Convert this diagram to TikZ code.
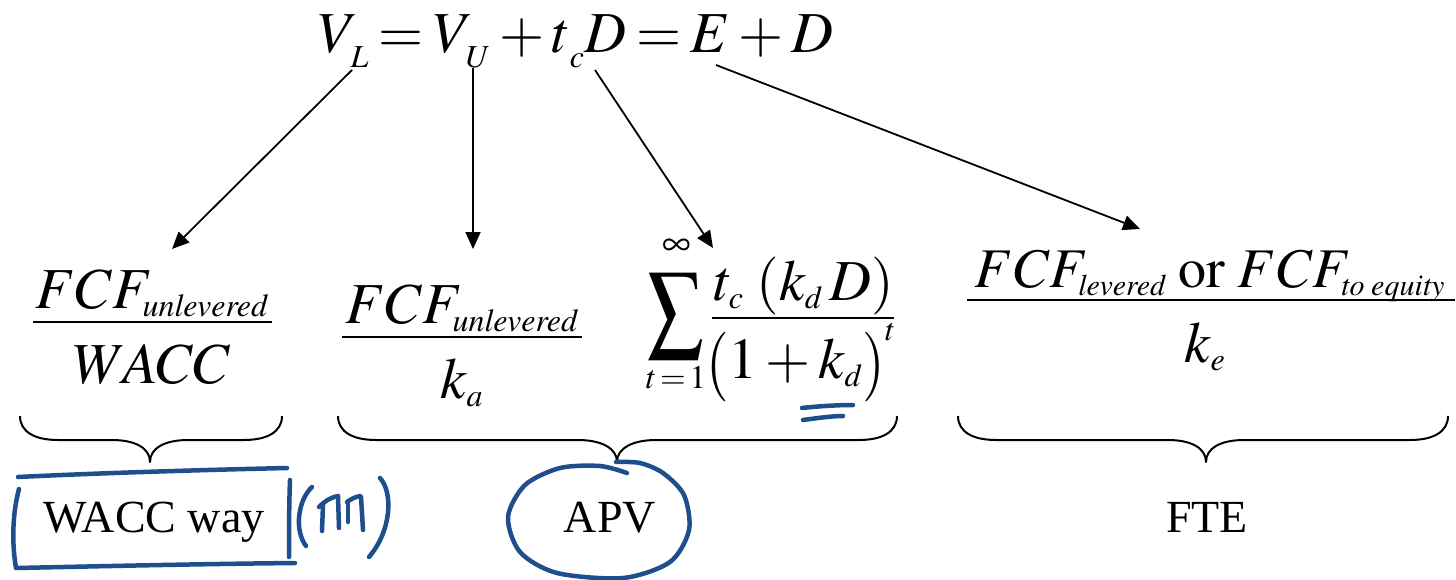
\documentclass[tikz,border=0pt]{standalone}
\usepackage{graphicx}
\usepackage{mathptmx}
\usepackage[no-math]{fontspec}
\setmainfont{Liberation Serif}
\usetikzlibrary{arrows.meta}
\DeclareMathSizes{58}{58}{32}{24}
\DeclareMathSizes{56}{56}{30}{22}
\DeclareMathSizes{46}{46}{28}{20}
\definecolor{inkblue}{HTML}{1F4E8C}
\newcommand\dn[1]{_{\kern3pt\lower6pt\hbox{$\scriptstyle #1$}}}
\newcommand\bigparen[1]{\raisebox{-6pt}{\scalebox{1}[1.2]{$#1$}}}
\tikzset{
  eq/.style={inner sep=0pt, outer sep=0pt, font=\fontsize{58}{60}\selectfont},
  eqs/.style={inner sep=0pt, outer sep=0pt, font=\fontsize{56}{60}\selectfont},
  lim/.style={inner sep=0pt, outer sep=0pt, font=\fontsize{33}{35}\selectfont},
  liminf/.style={inner sep=0pt, outer sep=0pt, font=\fontsize{40}{42}\selectfont},
  lbl/.style={inner sep=0pt, outer sep=0pt, font=\fontsize{46}{50}\selectfont},
  fbar/.style={line width=2.2pt},
  arr/.style={line width=1.8pt, -{Triangle[length=17pt,width=15pt]}},
  brace/.style={line width=2pt, line join=round},
  ink/.style={draw=inkblue, line width=4.5pt, line cap=round, line join=round},
}
\begin{document}
\begin{tikzpicture}[x=1pt,y=-1pt]
\useasboundingbox[fill=white] (0,0) rectangle (1456,580);

% top equation
\node[eq, anchor=base west] (top) at (318,53)
  {$\thickmuskip=3mu \medmuskip=2.5mu V\dn{L} = V\dn{U} + t\dn{c} D = E + D$};

% fraction 1: WACC
\node[eq, anchor=base] (n1) at (152,308) {$FCF_{\mathit{unlevered}}$};
\node[eq, anchor=base] (d1) at (152,383) {$WACC$};
\draw[fbar] (33,322) -- (272,322);

% fraction 2: k_a
\node[eq, anchor=base] (n2) at (462,323) {$FCF_{\mathit{unlevered}}$};
\node[eq, anchor=base] (d2) at (462,398) {$k_a$};
\draw[fbar] (342,337) -- (582,337);

% sum
\node[eq] (sig) at (676,316) {\scalebox{0.95}[1.2]{$\displaystyle\sum$}};
\node[liminf] (inf) at (677,247) {$\infty$};
\node[lim] (low) at (676,378) {$t\!=\!1$};
\node[eq, anchor=base] (n3) at (804,300) {$t_c\;(k_d\,D)$};
\node[eq, anchor=base] (d3) at (801,378) {$\mathopen{\bigparen{(}}1+k_d\mathclose{\bigparen{)}}^{\raisebox{4pt}{$\scriptstyle t$}}$};
\draw[fbar] (712,318) -- (894,318);

% fraction 4: FTE
\node[eqs, anchor=base] (n4) at (1210,287) {$FCF_{\mathit{levered}}\;\mathrm{or}\;FCF_{\mathit{to}\;\mathit{equity}}$};
\node[eq, anchor=base] (d4) at (1205,362) {$k_e$};
\draw[fbar] (967,300) -- (1455,300);

% arrows
\coordinate (a1s) at (352,70);  \coordinate (a1e) at (172,249);
\coordinate (a2s) at (473,68);  \coordinate (a2e) at (473,249);
\coordinate (a3s) at (595,70);  \coordinate (a3e) at (713,248);
\coordinate (a4s) at (716,65);  \coordinate (a4e) at (1140,229);
\draw[arr] (a1s) -- (a1e);
\draw[arr] (a2s) -- (a2e);
\draw[arr] (a3s) -- (a3e);
\draw[arr] (a4s) -- (a4e);

% braces
\draw[brace] (20,416) .. controls (20,432) and (35,440) .. (58,440) -- (112,440)
  .. controls (135,440) and (150,448) .. (150,462)
  .. controls (150,448) and (165,440) .. (188,440) -- (244,440)
  .. controls (267,440) and (282,432) .. (282,416);
\draw[brace] (338,416) .. controls (338,432) and (353,440) .. (376,440) -- (578,440)
  .. controls (601,440) and (617,448) .. (617,462)
  .. controls (617,448) and (633,440) .. (656,440) -- (859,440)
  .. controls (882,440) and (897,432) .. (897,416);
\draw[brace] (958,416) .. controls (958,432) and (973,440) .. (996,440) -- (1168,440)
  .. controls (1191,440) and (1206,448) .. (1206,462)
  .. controls (1206,448) and (1221,440) .. (1244,440) -- (1410,440)
  .. controls (1433,440) and (1448,432) .. (1448,416);

% labels
\node[lbl, anchor=base] (wacc) at (154,532) {WACC way};
\node[lbl, anchor=base] (apv) at (610,532) {APV};
\node[lbl, anchor=base] (fte) at (1207,532) {FTE};

% handwritten ink
\draw[ink] (18,477) .. controls (100,473) and (200,470) .. (287,468);
\draw[ink] (19,489) .. controls (12,515) and (12,545) .. (16,568);
\draw[ink] (17,568) .. controls (110,566) and (200,564) .. (295,563);
\draw[ink] (290,480) .. controls (289,505) and (289,535) .. (289,557);
\draw[ink] (312,487) .. controls (298,500) and (294,530) .. (306,546);
\draw[ink] (319,507) .. controls (326,500) and (332,497) .. (338,496);
\draw[ink] (323,505) -- (322,531);
\draw[ink] (338,496) -- (339,528);
\draw[ink] (347,502) .. controls (351,499) and (355,497) .. (360,496);
\draw[ink] (348,503) -- (348,522);
\draw[ink] (361,497) -- (363,530);
\draw[ink] (380,478) .. controls (393,492) and (392,530) .. (369,557);
\draw[ink] plot[smooth] coordinates {(627,473) (600,466) (560,468) (525,485) (508,517) (520,552) (557,573) (623,578) (670,562) (689,530) (684,495) (663,473) (640,463) (616,462)};
\draw[ink] (802,408) .. controls (820,406) and (840,405) .. (853,405);
\draw[ink] (803,420) .. controls (818,418) and (832,416) .. (843,416);
\end{tikzpicture}
\end{document}
